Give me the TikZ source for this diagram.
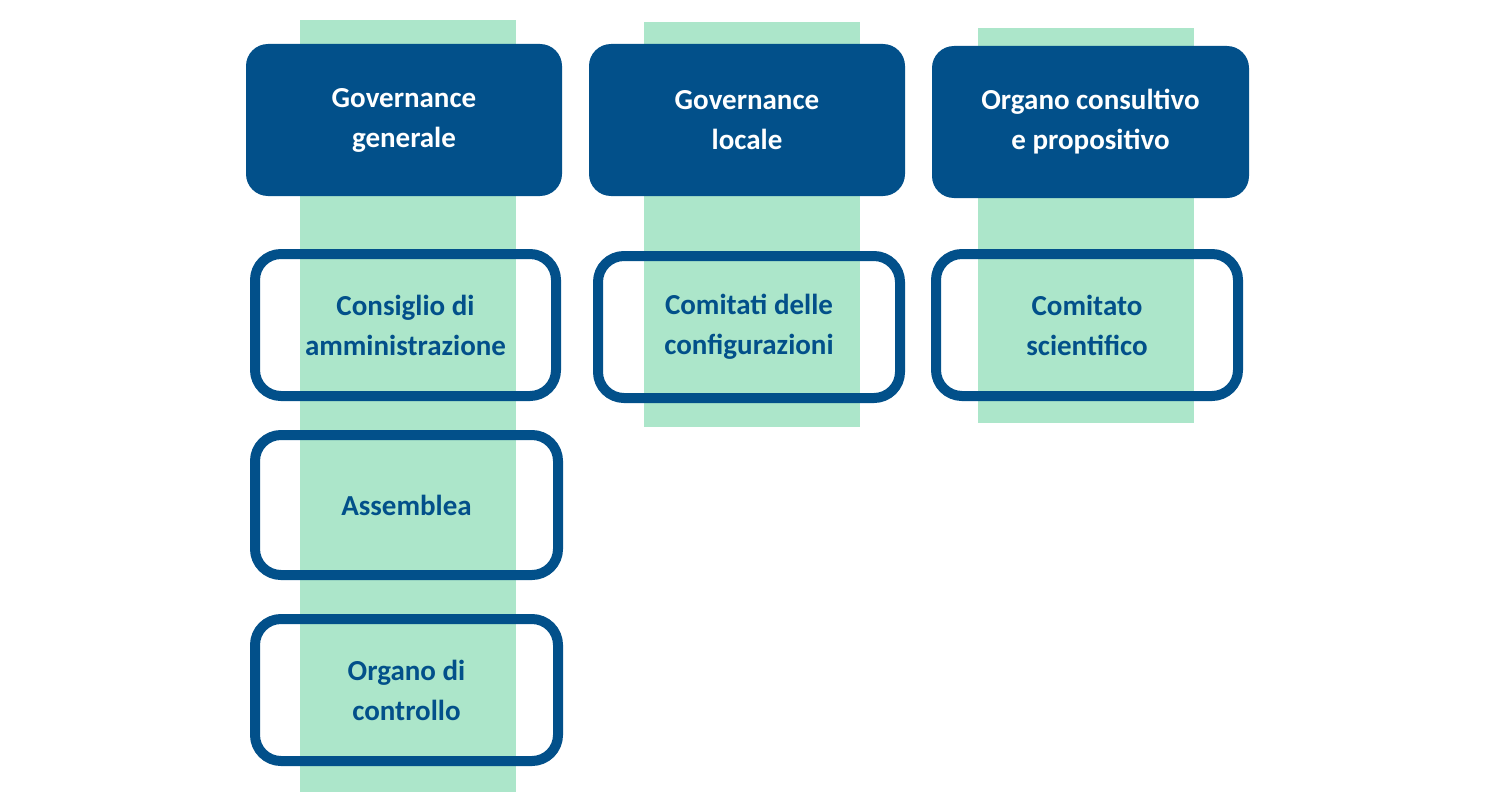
\documentclass[tikz,border=0pt]{standalone}
\usepackage{fontspec}
\setmainfont{Carlito}
\definecolor{dblue}{RGB}{2,80,138}
\definecolor{lgreen}{RGB}{172,230,202}
\begin{document}
\begin{tikzpicture}[x=1pt,y=-1pt,
  hdr/.style={fill=dblue,rounded corners=22pt,text=white,font=\bfseries\fontsize{29}{40}\selectfont,align=center,inner sep=0pt},
  obox/.style={draw=dblue,line width=10pt,rounded corners=26pt,text=dblue,font=\bfseries\fontsize{29}{40}\selectfont,align=center,inner sep=0pt}]
\useasboundingbox (0,0) rectangle (1500,808);
\fill[lgreen] (300,20) rectangle (516,792);
\fill[lgreen] (644,22) rectangle (860,427);
\fill[lgreen] (978,28) rectangle (1194,423);
\node[hdr,minimum width=316pt,minimum height=152pt] (h1) at (404,120) {Governance\\generale};
\node[hdr,minimum width=316pt,minimum height=152pt] (h2) at (747,120) {Governance\\locale};
\node[hdr,minimum width=317pt,minimum height=152pt] (h3) at (1090.5,122) {Organo consultivo\\e propositivo};
\node[obox,minimum width=301pt,minimum height=142pt] (b1) at (405.5,325) {Consiglio di\\amministrazione};
\node[obox,minimum width=303pt,minimum height=140pt] (b2) at (406.5,505) {Assemblea};
\node[obox,minimum width=303pt,minimum height=142pt] (b3) at (406.5,690) {Organo di\\controllo};
\node[obox,minimum width=302pt,minimum height=142pt] (b4) at (749,327) {Comitati delle\\configurazioni};
\node[obox,minimum width=302pt,minimum height=142pt] (b5) at (1087,325) {Comitato\\scientifico};
\end{tikzpicture}
\end{document}
